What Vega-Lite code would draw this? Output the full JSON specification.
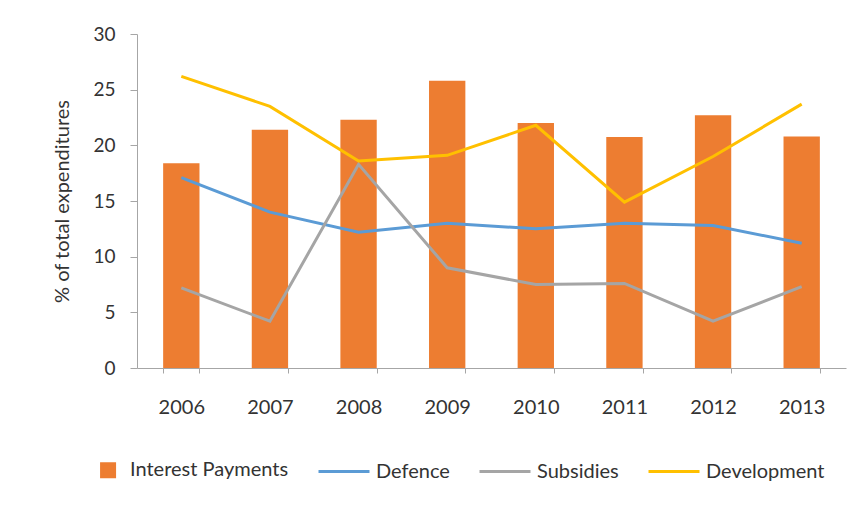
{
  "$schema": "https://vega.github.io/schema/vega-lite/v6.json",
  "autosize": {"type": "none"},
  "width": 709,
  "height": 334,
  "padding": {"left": 137, "top": 34, "right": 21, "bottom": 138},
  "background": "white",
  "config": {"view": {"stroke": null}, "font": "Lato"},
  "data": {
    "values": [
      {"year": "2006", "series": "Interest Payments", "value": 18.4},
      {"year": "2007", "series": "Interest Payments", "value": 21.4},
      {"year": "2008", "series": "Interest Payments", "value": 22.3},
      {"year": "2009", "series": "Interest Payments", "value": 25.8},
      {"year": "2010", "series": "Interest Payments", "value": 22.0},
      {"year": "2011", "series": "Interest Payments", "value": 20.75},
      {"year": "2012", "series": "Interest Payments", "value": 22.7},
      {"year": "2013", "series": "Interest Payments", "value": 20.8},
      {"year": "2006", "series": "Defence", "value": 17.1},
      {"year": "2007", "series": "Defence", "value": 14.0},
      {"year": "2008", "series": "Defence", "value": 12.2},
      {"year": "2009", "series": "Defence", "value": 13.0},
      {"year": "2010", "series": "Defence", "value": 12.5},
      {"year": "2011", "series": "Defence", "value": 13.0},
      {"year": "2012", "series": "Defence", "value": 12.8},
      {"year": "2013", "series": "Defence", "value": 11.2},
      {"year": "2006", "series": "Subsidies", "value": 7.2},
      {"year": "2007", "series": "Subsidies", "value": 4.2},
      {"year": "2008", "series": "Subsidies", "value": 18.3},
      {"year": "2009", "series": "Subsidies", "value": 9.0},
      {"year": "2010", "series": "Subsidies", "value": 7.5},
      {"year": "2011", "series": "Subsidies", "value": 7.6},
      {"year": "2012", "series": "Subsidies", "value": 4.2},
      {"year": "2013", "series": "Subsidies", "value": 7.3},
      {"year": "2006", "series": "Development", "value": 26.2},
      {"year": "2007", "series": "Development", "value": 23.5},
      {"year": "2008", "series": "Development", "value": 18.6},
      {"year": "2009", "series": "Development", "value": 19.1},
      {"year": "2010", "series": "Development", "value": 21.8},
      {"year": "2011", "series": "Development", "value": 14.9},
      {"year": "2012", "series": "Development", "value": 19.0},
      {"year": "2013", "series": "Development", "value": 23.7}
    ]
  },
  "encoding": {
    "x": {
      "field": "year", "type": "ordinal",
      "scale": {"paddingInner": 0.59, "paddingOuter": 0.295},
      "axis": {
        "title": null, "labelAngle": 0, "labelFontSize": 20, "labelColor": "#333333",
        "labelPadding": 24, "domainColor": "#a6a6a6", "tickColor": "#a6a6a6",
        "tickBand": "extent", "tickSize": 5
      }
    },
    "y": {
      "field": "value", "type": "quantitative",
      "scale": {"domain": [0, 30]},
      "axis": {
        "title": "% of total expenditures", "titleFontSize": 20, "titleFontWeight": "normal",
        "titleColor": "#333333", "titlePadding": 20,
        "values": [0, 5, 10, 15, 20, 25, 30], "grid": false,
        "labelFontSize": 19, "labelColor": "#333333", "labelPadding": 15,
        "domainColor": "#a6a6a6", "tickColor": "#a6a6a6", "tickSize": 7
      }
    },
    "color": {
      "field": "series", "type": "nominal",
      "scale": {
        "domain": ["Interest Payments", "Defence", "Subsidies", "Development"],
        "range": ["#ED7D31", "#5B9BD5", "#A5A5A5", "#FFC000"]
      },
      "legend": {
        "title": null, "orient": "none", "direction": "horizontal",
        "legendX": -66, "legendY": 409,
        "labelFontSize": 20, "labelColor": "#333333", "labelOffset": 5,
        "columnPadding": 23, "symbolSize": 2600,
        "encode": {
          "symbols": {
            "update": {
              "shape": {"signal": "datum.value == 'Interest Payments' ? 'M0.14,-0.255L0.65,-0.255L0.65,0.255L0.14,0.255Z' : 'stroke'"},
              "size": {"value": 2600},
              "fill": {"signal": "datum.value == 'Interest Payments' ? '#ED7D31' : 'transparent'"},
              "stroke": {"signal": "datum.value == 'Interest Payments' ? 'transparent' : (datum.value == 'Defence' ? '#5B9BD5' : (datum.value == 'Subsidies' ? '#A5A5A5' : '#FFC000'))"},
              "strokeWidth": {"value": 3},
              "opacity": {"value": 1}
            }
          }
        }
      }
    }
  },
  "layer": [
    {
      "transform": [{"filter": "datum.series == 'Interest Payments'"}],
      "mark": {"type": "bar", "opacity": 1}
    },
    {
      "transform": [{"filter": "datum.series != 'Interest Payments'"}],
      "mark": {"type": "line", "strokeWidth": 3}
    }
  ]
}
